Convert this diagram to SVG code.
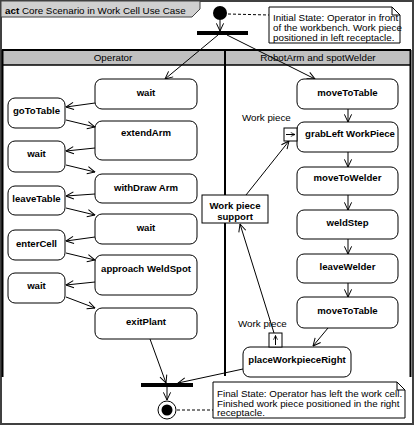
<svg xmlns="http://www.w3.org/2000/svg" width="415" height="426" viewBox="0 0 415 426">
<defs>
<style>
.t{font-family:"Liberation Sans",Arial,sans-serif;font-size:9.8px;fill:#000}
.b{font-weight:bold;text-anchor:middle;font-size:9.6px}
.act{fill:#fff;stroke:#000;stroke-width:1}
.c{stroke:#000;stroke-width:1;fill:none;marker-end:url(#ah)}
.d{stroke:#000;stroke-width:1;fill:none;stroke-dasharray:3,2}
.bar{fill:#000}
.note{fill:#fff;stroke:#000;stroke-width:1}
</style>
<marker id="ah" viewBox="0 0 10 10" refX="9.5" refY="5" markerWidth="9" markerHeight="9" markerUnits="userSpaceOnUse" orient="auto">
<path d="M1,1 L9.5,5 L1,9" fill="none" stroke="#000" stroke-width="1.1"/>
</marker>
<marker id="sm" viewBox="0 0 10 10" refX="9.5" refY="5" markerWidth="5" markerHeight="5" markerUnits="userSpaceOnUse" orient="auto">
<path d="M1,1 L9.5,5 L1,9" fill="none" stroke="#000" stroke-width="1.5"/>
</marker>
</defs>
<rect width="415" height="426" fill="#fff"/>
<g id="frame">
<rect x="1" y="1" width="412" height="423" fill="none" stroke="#404040" stroke-width="2"/>
<path d="M1,1 H200 V9 L192,17 H1 Z" fill="#d0d0d0" stroke="#404040" stroke-width="1"/>
<text class="t" x="5" y="13.5"><tspan font-weight="bold">act</tspan> Core Scenario in Work Cell Use Case</text>
</g>
<g id="lanes">
<rect x="2" y="50" width="409" height="15" fill="#c0c0c0"/>
<line x1="2" y1="50" x2="411" y2="50" stroke="#000" stroke-width="2"/>
<line x1="2" y1="65" x2="411" y2="65" stroke="#000" stroke-width="1.5"/>
<line x1="2.5" y1="50" x2="2.5" y2="377" stroke="#000" stroke-width="2"/>
<line x1="225" y1="50" x2="225" y2="376" stroke="#000" stroke-width="2"/>
<line x1="410.5" y1="50" x2="410.5" y2="377" stroke="#000" stroke-width="2"/>
<text class="t" x="113" y="61" text-anchor="middle">Operator</text>
<text class="t" x="318" y="61" text-anchor="middle">RobotArm and spotWelder</text>
</g>
<g id="connectors">
<line class="c" x1="220" y1="20" x2="220" y2="31"/>
<line class="d" x1="228" y1="14" x2="269" y2="15"/>
<line class="c" x1="218" y1="35" x2="165" y2="79"/>
<line class="c" x1="227" y1="35" x2="315" y2="79"/>
<line class="c" x1="95" y1="103" x2="66" y2="107"/>
<line class="c" x1="66" y1="120" x2="95" y2="127"/>
<line class="c" x1="95" y1="148" x2="66" y2="151"/>
<line class="c" x1="66" y1="165" x2="95" y2="172"/>
<line class="c" x1="95" y1="194" x2="66" y2="196"/>
<line class="c" x1="66" y1="208" x2="95" y2="215"/>
<line class="c" x1="95" y1="237" x2="66" y2="241"/>
<line class="c" x1="66" y1="253" x2="95" y2="260"/>
<line class="c" x1="95" y1="282" x2="66" y2="285"/>
<line class="c" x1="66" y1="297" x2="95" y2="308"/>
<line class="c" x1="150" y1="339" x2="166" y2="383"/>
<line class="c" x1="167" y1="387" x2="167" y2="400"/>
<line class="c" x1="243" y1="369" x2="178" y2="383"/>
<line class="d" x1="177" y1="410" x2="213" y2="410"/>
<line class="c" x1="348" y1="109" x2="348" y2="122"/>
<line class="c" x1="348" y1="152" x2="348" y2="167"/>
<line class="c" x1="348" y1="195" x2="348" y2="210"/>
<line class="c" x1="348" y1="239" x2="348" y2="254"/>
<line class="c" x1="348" y1="283" x2="348" y2="297"/>
<line class="c" x1="328" y1="328" x2="313" y2="346"/>
<line class="c" x1="246" y1="195" x2="289" y2="141"/>
<line class="c" x1="274" y1="333" x2="240" y2="224"/>
</g>
<g id="initial"><circle cx="220" cy="13" r="7" fill="#000"/></g>
<g id="fork"><rect class="bar" x="197" y="31" width="51" height="4"/></g>
<g id="join"><rect class="bar" x="141" y="383" width="52" height="4"/></g>
<g id="final"><circle cx="167" cy="410" r="9" fill="#fff" stroke="#000" stroke-width="1"/><circle cx="167" cy="410" r="5.5" fill="#000"/></g>
<g id="note1">
<path class="note" d="M269,7 H392 L400,15 V43 H269 Z"/>
<path d="M392,7 V15 H400" fill="none" stroke="#000"/>
<text class="t" x="273" y="20.5">Initial State: Operator in front</text>
<text class="t" x="273" y="30.5">of the workbench. Work piece</text>
<text class="t" x="273" y="41">positioned in left receptacle.</text>
</g>
<g id="note2">
<path class="note" d="M213,382 H397 L405,390 V418 H213 Z"/>
<path d="M397,382 V390 H405" fill="none" stroke="#000"/>
<text class="t" x="217" y="396.5">Final State: Operator has left the work cell.</text>
<text class="t" x="217" y="406.5">Finished work piece positioned in the right</text>
<text class="t" x="217" y="416">receptacle.</text>
</g>
<g id="op_wait1"><rect class="act" x="95" y="79" width="102" height="30" rx="7"/><text class="t b" x="146" y="95.5">wait</text></g>
<g id="op_extendArm"><rect class="act" x="95" y="121" width="102" height="39" rx="7"/><text class="t b" x="146" y="135.5">extendArm</text></g>
<g id="op_withDrawArm"><rect class="act" x="95" y="174" width="102" height="29" rx="7"/><text class="t b" x="146" y="190.5">withDraw Arm</text></g>
<g id="op_wait2"><rect class="act" x="95" y="214" width="102" height="30" rx="7"/><text class="t b" x="146" y="230.5">wait</text></g>
<g id="op_approach"><rect class="act" x="95" y="255" width="102" height="40" rx="7"/><text class="t b" x="146" y="271.5">approach WeldSpot</text></g>
<g id="op_exitPlant"><rect class="act" x="95" y="308" width="102" height="31" rx="7"/><text class="t b" x="146" y="324.5">exitPlant</text></g>
<g id="op_goToTable"><rect class="act" x="8" y="98" width="57" height="30" rx="7"/><text class="t b" x="36.5" y="113.5">goToTable</text></g>
<g id="op_waitL1"><rect class="act" x="8" y="141" width="57" height="31" rx="7"/><text class="t b" x="36.5" y="156.5">wait</text></g>
<g id="op_leaveTable"><rect class="act" x="8" y="186" width="57" height="29" rx="7"/><text class="t b" x="36.5" y="201.5">leaveTable</text></g>
<g id="op_enterCell"><rect class="act" x="8" y="230" width="57" height="30" rx="7"/><text class="t b" x="36.5" y="246.5">enterCell</text></g>
<g id="op_waitL2"><rect class="act" x="8" y="273" width="57" height="30" rx="7"/><text class="t b" x="36.5" y="288.5">wait</text></g>
<g id="rb_moveToTable1"><rect class="act" x="297" y="79" width="101" height="30" rx="7"/><text class="t b" x="347.5" y="95.5">moveToTable</text></g>
<g id="rb_grabLeft"><rect class="act" x="297" y="122" width="101" height="30" rx="7"/><text class="t b" x="350" y="136.5">grabLeft WorkPiece</text></g>
<g id="rb_moveToWelder"><rect class="act" x="297" y="167" width="101" height="28" rx="7"/><text class="t b" x="347.5" y="180.5">moveToWelder</text></g>
<g id="rb_weldStep"><rect class="act" x="297" y="210" width="101" height="29" rx="7"/><text class="t b" x="347.5" y="225.5">weldStep</text></g>
<g id="rb_leaveWelder"><rect class="act" x="297" y="254" width="101" height="29" rx="7"/><text class="t b" x="347.5" y="269.5">leaveWelder</text></g>
<g id="rb_moveToTable2"><rect class="act" x="297" y="297" width="101" height="31" rx="7"/><text class="t b" x="347.5" y="313.5">moveToTable</text></g>
<g id="rb_placeRight"><rect class="act" x="243" y="347" width="108" height="30" rx="7"/><text class="t b" x="297" y="362.5">placeWorkpieceRight</text></g>
<g id="pin1">
<rect x="284" y="128" width="13" height="13" fill="#fff" stroke="#000"/>
<line x1="286" y1="134.5" x2="295" y2="134.5" stroke="#000" marker-end="url(#sm)"/>
<text class="t" x="242" y="120.5">Work piece</text>
</g>
<g id="pin2">
<rect x="269" y="333" width="13" height="14" fill="#fff" stroke="#000"/>
<line x1="275.5" y1="345" x2="275.5" y2="335.5" stroke="#000" marker-end="url(#sm)"/>
<text class="t" x="238" y="327">Work piece</text>
</g>
<g id="workpiece_support">
<rect x="202" y="195" width="66" height="28" fill="#fff" stroke="#000"/>
<text class="t b" x="235" y="209">Work piece</text>
<text class="t b" x="235" y="219.5">support</text>
</g>
</svg>
